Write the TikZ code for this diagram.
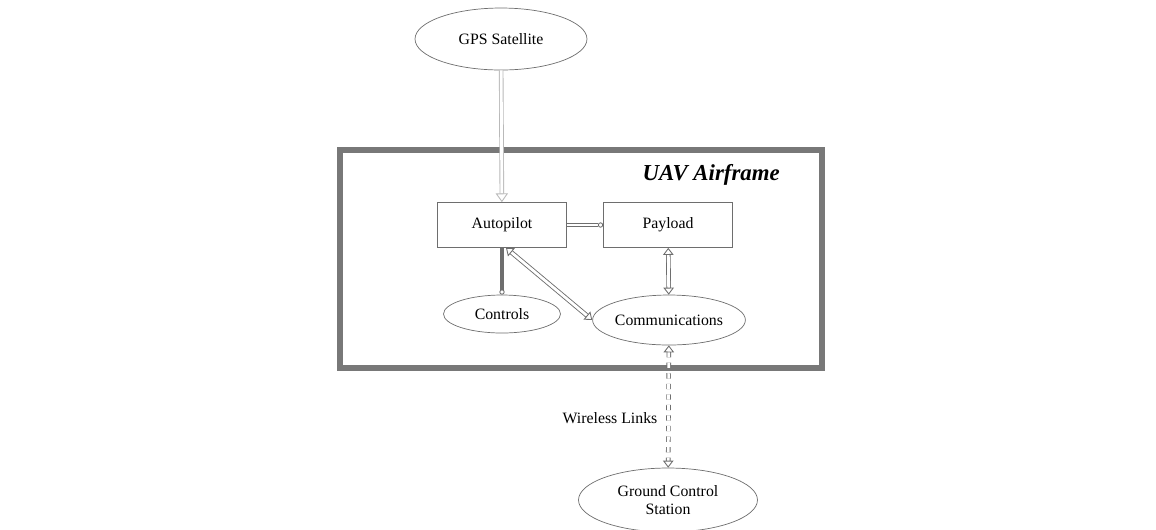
\documentclass[tikz,border=0pt]{standalone}
\usepackage{fontspec}
\setmainfont{Liberation Serif}
\usetikzlibrary{arrows.meta,shapes.geometric,shapes.misc}
\definecolor{frameGray}{RGB}{120,120,120}
\definecolor{lineGray}{RGB}{110,110,110}
\definecolor{lightGray}{RGB}{185,185,185}

\begin{document}
\begin{tikzpicture}[x=0.02cm,y=-0.02cm,
    font=\fontsize{9}{10}\selectfont,
    unit/.style={draw=lineGray, thin, fill=white, minimum width=2.58cm, minimum height=0.9cm, inner sep=0pt},
    oval/.style={draw=lineGray, thin, fill=white, ellipse, inner sep=0pt, align=center},
    link/.style={draw=lineGray, double=white, double distance=1.6pt, line width=0.5pt},
    opentip/.tip={Triangle[open, length=4pt, width=6pt]},
    bigtip/.tip={Triangle[open, length=5pt, width=7pt]},
    dottip/.tip={Circle[open, length=3pt]}]
  \useasboundingbox (0,0) rectangle (1156,529);

  % airframe border
  \node[chamfered rectangle, chamfered rectangle xsep=5pt, chamfered rectangle ysep=5pt,
        draw=frameGray, line width=3.2pt,
        minimum width=9.64cm, minimum height=4.36cm, inner sep=0pt] (airframe) at (581,259) {};
  \node[anchor=east, font=\fontsize{13}{15}\selectfont\bfseries\itshape] (title) at (786,175) {UAV Airframe};

  \node[oval, minimum width=3.44cm, minimum height=1.24cm] (gps) at (501,39) {GPS Satellite};
  \node[unit] (autopilot) at (502,225) {Autopilot};
  \node[unit] (payload) at (668,225) {Payload};
  \node[oval, minimum width=2.34cm, minimum height=0.76cm] (controls) at (502,314) {Controls};
  \node[oval, minimum width=2.76cm, minimum height=1.0cm] (comms) at (669,320) {Communications};
  \node[oval, minimum width=3.58cm, minimum height=1.28cm] (gcs) at (668,500) {Ground Control\\Station};
  \node (wireless) at (610,418) {Wireless Links};

  \draw[link, draw=lightGray, -bigtip] (gps) -- (autopilot);
  \draw[link, -dottip] (autopilot) -- (payload);
  \draw[link, double=lineGray, -dottip] (autopilot) -- (controls);
  \draw[link, opentip-opentip] ([xshift=0.08cm]autopilot.south) -- (comms.west);
  \draw[link, opentip-opentip] (payload) -- (comms);
  \draw[link, dashed, opentip-opentip] (comms) -- (gcs);
\end{tikzpicture}
\end{document}
